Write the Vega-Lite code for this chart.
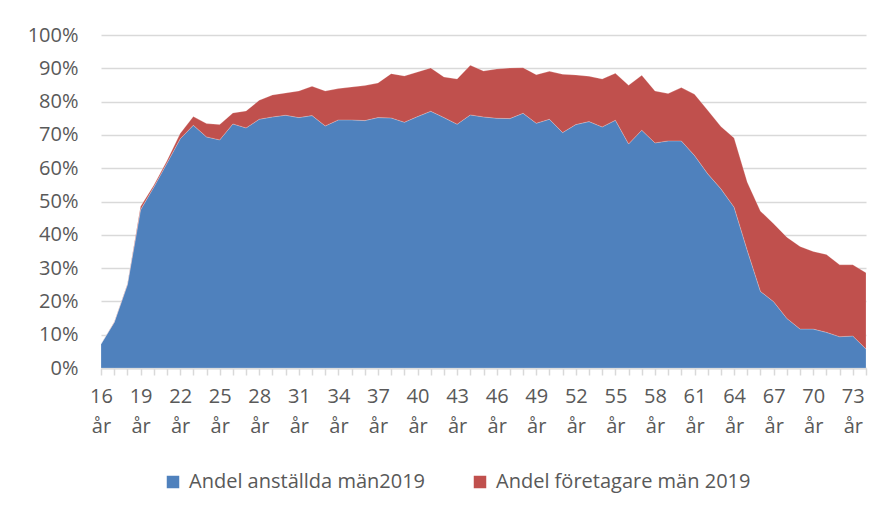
{
  "$schema": "https://vega.github.io/schema/vega-lite/v6.json",
  "width": 765,
  "height": 333,
  "autosize": {"type": "none"},
  "padding": {"left": 101, "top": 35, "right": 28, "bottom": 147},
  "background": "#ffffff",
  "config": {
    "view": {"stroke": null},
    "font": "Open Sans",
    "axis": {"labelFont": "Open Sans", "labelColor": "#595959", "labelFontSize": 20},
    "legend": {"labelFont": "Open Sans", "labelColor": "#595959", "labelFontSize": 20}
  },
  "data": {
    "values": [
      {"age": 16, "serie": "Andel anställda män2019", "value": 0.072}, {"age": 16, "serie": "Andel företagare män 2019", "value": 0.0},
      {"age": 17, "serie": "Andel anställda män2019", "value": 0.137}, {"age": 17, "serie": "Andel företagare män 2019", "value": 0.001},
      {"age": 18, "serie": "Andel anställda män2019", "value": 0.25}, {"age": 18, "serie": "Andel företagare män 2019", "value": 0.002},
      {"age": 19, "serie": "Andel anställda män2019", "value": 0.475}, {"age": 19, "serie": "Andel företagare män 2019", "value": 0.01},
      {"age": 20, "serie": "Andel anställda män2019", "value": 0.543}, {"age": 20, "serie": "Andel företagare män 2019", "value": 0.006},
      {"age": 21, "serie": "Andel anställda män2019", "value": 0.615}, {"age": 21, "serie": "Andel företagare män 2019", "value": 0.007},
      {"age": 22, "serie": "Andel anställda män2019", "value": 0.688}, {"age": 22, "serie": "Andel företagare män 2019", "value": 0.016},
      {"age": 23, "serie": "Andel anställda män2019", "value": 0.729}, {"age": 23, "serie": "Andel företagare män 2019", "value": 0.026},
      {"age": 24, "serie": "Andel anställda män2019", "value": 0.694}, {"age": 24, "serie": "Andel företagare män 2019", "value": 0.04},
      {"age": 25, "serie": "Andel anställda män2019", "value": 0.685}, {"age": 25, "serie": "Andel företagare män 2019", "value": 0.046},
      {"age": 26, "serie": "Andel anställda män2019", "value": 0.733}, {"age": 26, "serie": "Andel företagare män 2019", "value": 0.033},
      {"age": 27, "serie": "Andel anställda män2019", "value": 0.721}, {"age": 27, "serie": "Andel företagare män 2019", "value": 0.051},
      {"age": 28, "serie": "Andel anställda män2019", "value": 0.747}, {"age": 28, "serie": "Andel företagare män 2019", "value": 0.057},
      {"age": 29, "serie": "Andel anställda män2019", "value": 0.754}, {"age": 29, "serie": "Andel företagare män 2019", "value": 0.066},
      {"age": 30, "serie": "Andel anställda män2019", "value": 0.759}, {"age": 30, "serie": "Andel företagare män 2019", "value": 0.067},
      {"age": 31, "serie": "Andel anställda män2019", "value": 0.752}, {"age": 31, "serie": "Andel företagare män 2019", "value": 0.08},
      {"age": 32, "serie": "Andel anställda män2019", "value": 0.758}, {"age": 32, "serie": "Andel företagare män 2019", "value": 0.088},
      {"age": 33, "serie": "Andel anställda män2019", "value": 0.727}, {"age": 33, "serie": "Andel företagare män 2019", "value": 0.105},
      {"age": 34, "serie": "Andel anställda män2019", "value": 0.745}, {"age": 34, "serie": "Andel företagare män 2019", "value": 0.094},
      {"age": 35, "serie": "Andel anställda män2019", "value": 0.745}, {"age": 35, "serie": "Andel företagare män 2019", "value": 0.099},
      {"age": 36, "serie": "Andel anställda män2019", "value": 0.743}, {"age": 36, "serie": "Andel företagare män 2019", "value": 0.105},
      {"age": 37, "serie": "Andel anställda män2019", "value": 0.752}, {"age": 37, "serie": "Andel företagare män 2019", "value": 0.104},
      {"age": 38, "serie": "Andel anställda män2019", "value": 0.751}, {"age": 38, "serie": "Andel företagare män 2019", "value": 0.133},
      {"age": 39, "serie": "Andel anställda män2019", "value": 0.738}, {"age": 39, "serie": "Andel företagare män 2019", "value": 0.139},
      {"age": 40, "serie": "Andel anställda män2019", "value": 0.755}, {"age": 40, "serie": "Andel företagare män 2019", "value": 0.134},
      {"age": 41, "serie": "Andel anställda män2019", "value": 0.771}, {"age": 41, "serie": "Andel företagare män 2019", "value": 0.13},
      {"age": 42, "serie": "Andel anställda män2019", "value": 0.752}, {"age": 42, "serie": "Andel företagare män 2019", "value": 0.122},
      {"age": 43, "serie": "Andel anställda män2019", "value": 0.732}, {"age": 43, "serie": "Andel företagare män 2019", "value": 0.136},
      {"age": 44, "serie": "Andel anställda män2019", "value": 0.76}, {"age": 44, "serie": "Andel företagare män 2019", "value": 0.149},
      {"age": 45, "serie": "Andel anställda män2019", "value": 0.754}, {"age": 45, "serie": "Andel företagare män 2019", "value": 0.138},
      {"age": 46, "serie": "Andel anställda män2019", "value": 0.75}, {"age": 46, "serie": "Andel företagare män 2019", "value": 0.148},
      {"age": 47, "serie": "Andel anställda män2019", "value": 0.749}, {"age": 47, "serie": "Andel företagare män 2019", "value": 0.152},
      {"age": 48, "serie": "Andel anställda män2019", "value": 0.765}, {"age": 48, "serie": "Andel företagare män 2019", "value": 0.137},
      {"age": 49, "serie": "Andel anställda män2019", "value": 0.735}, {"age": 49, "serie": "Andel företagare män 2019", "value": 0.146},
      {"age": 50, "serie": "Andel anställda män2019", "value": 0.747}, {"age": 50, "serie": "Andel företagare män 2019", "value": 0.144},
      {"age": 51, "serie": "Andel anställda män2019", "value": 0.707}, {"age": 51, "serie": "Andel företagare män 2019", "value": 0.175},
      {"age": 52, "serie": "Andel anställda män2019", "value": 0.731}, {"age": 52, "serie": "Andel företagare män 2019", "value": 0.149},
      {"age": 53, "serie": "Andel anställda män2019", "value": 0.74}, {"age": 53, "serie": "Andel företagare män 2019", "value": 0.136},
      {"age": 54, "serie": "Andel anställda män2019", "value": 0.724}, {"age": 54, "serie": "Andel företagare män 2019", "value": 0.144},
      {"age": 55, "serie": "Andel anställda män2019", "value": 0.744}, {"age": 55, "serie": "Andel företagare män 2019", "value": 0.141},
      {"age": 56, "serie": "Andel anställda män2019", "value": 0.673}, {"age": 56, "serie": "Andel företagare män 2019", "value": 0.176},
      {"age": 57, "serie": "Andel anställda män2019", "value": 0.714}, {"age": 57, "serie": "Andel företagare män 2019", "value": 0.165},
      {"age": 58, "serie": "Andel anställda män2019", "value": 0.676}, {"age": 58, "serie": "Andel företagare män 2019", "value": 0.156},
      {"age": 59, "serie": "Andel anställda män2019", "value": 0.682}, {"age": 59, "serie": "Andel företagare män 2019", "value": 0.142},
      {"age": 60, "serie": "Andel anställda män2019", "value": 0.682}, {"age": 60, "serie": "Andel företagare män 2019", "value": 0.16},
      {"age": 61, "serie": "Andel anställda män2019", "value": 0.638}, {"age": 61, "serie": "Andel företagare män 2019", "value": 0.184},
      {"age": 62, "serie": "Andel anställda män2019", "value": 0.583}, {"age": 62, "serie": "Andel företagare män 2019", "value": 0.191},
      {"age": 63, "serie": "Andel anställda män2019", "value": 0.538}, {"age": 63, "serie": "Andel företagare män 2019", "value": 0.187},
      {"age": 64, "serie": "Andel anställda män2019", "value": 0.483}, {"age": 64, "serie": "Andel företagare män 2019", "value": 0.208},
      {"age": 65, "serie": "Andel anställda män2019", "value": 0.353}, {"age": 65, "serie": "Andel företagare män 2019", "value": 0.205},
      {"age": 66, "serie": "Andel anställda män2019", "value": 0.23}, {"age": 66, "serie": "Andel företagare män 2019", "value": 0.241},
      {"age": 67, "serie": "Andel anställda män2019", "value": 0.199}, {"age": 67, "serie": "Andel företagare män 2019", "value": 0.234},
      {"age": 68, "serie": "Andel anställda män2019", "value": 0.149}, {"age": 68, "serie": "Andel företagare män 2019", "value": 0.244},
      {"age": 69, "serie": "Andel anställda män2019", "value": 0.117}, {"age": 69, "serie": "Andel företagare män 2019", "value": 0.248},
      {"age": 70, "serie": "Andel anställda män2019", "value": 0.117}, {"age": 70, "serie": "Andel företagare män 2019", "value": 0.233},
      {"age": 71, "serie": "Andel anställda män2019", "value": 0.107}, {"age": 71, "serie": "Andel företagare män 2019", "value": 0.234},
      {"age": 72, "serie": "Andel anställda män2019", "value": 0.094}, {"age": 72, "serie": "Andel företagare män 2019", "value": 0.216},
      {"age": 73, "serie": "Andel anställda män2019", "value": 0.096}, {"age": 73, "serie": "Andel företagare män 2019", "value": 0.214},
      {"age": 74, "serie": "Andel anställda män2019", "value": 0.057}, {"age": 74, "serie": "Andel företagare män 2019", "value": 0.229}
    ]
  },
  "mark": {"type": "area", "line": false, "stroke": "#ffffff", "strokeOpacity": 0.3, "strokeWidth": 0.7},
  "encoding": {
    "x": {
      "field": "age",
      "type": "ordinal",
      "scale": {"type": "point", "padding": 0},
      "axis": {
        "title": null,
        "labelAngle": 0,
        "labelOverlap": false,
        "labelExpr": "datum.value % 3 == 1 ? [datum.value + '', 'år'] : ''",
        "labelLineHeight": 30,
        "labelPadding": 11,
        "domainColor": "#d9d9d9",
        "domainWidth": 2,
        "tickColor": "#d9d9d9",
        "tickWidth": 1.5,
        "tickSize": 7,
        "grid": false
      }
    },
    "y": {
      "field": "value",
      "type": "quantitative",
      "stack": "zero",
      "scale": {"domain": [0, 1], "nice": false},
      "axis": {
        "title": null,
        "format": ".0%",
        "values": [0, 0.1, 0.2, 0.3, 0.4, 0.5, 0.6, 0.7, 0.8, 0.9, 1.0],
        "domain": false,
        "ticks": false,
        "labelPadding": 23,
        "gridColor": "#d9d9d9",
        "gridWidth": 1.5
      }
    },
    "color": {
      "field": "serie",
      "type": "nominal",
      "scale": {"domain": ["Andel anställda män2019", "Andel företagare män 2019"], "range": ["#4f81bd", "#c0504d"]},
      "legend": {
        "title": null,
        "orient": "none",
        "legendX": 62,
        "legendY": 437,
        "direction": "horizontal",
        "symbolType": "square",
        "symbolSize": 156,
        "symbolStrokeWidth": 0,
        "symbolOpacity": 1,
        "labelLimit": 0,
        "labelOffset": 6,
        "columnPadding": 44
      }
    },
    "order": {"field": "serie", "sort": "ascending"}
  }
}
